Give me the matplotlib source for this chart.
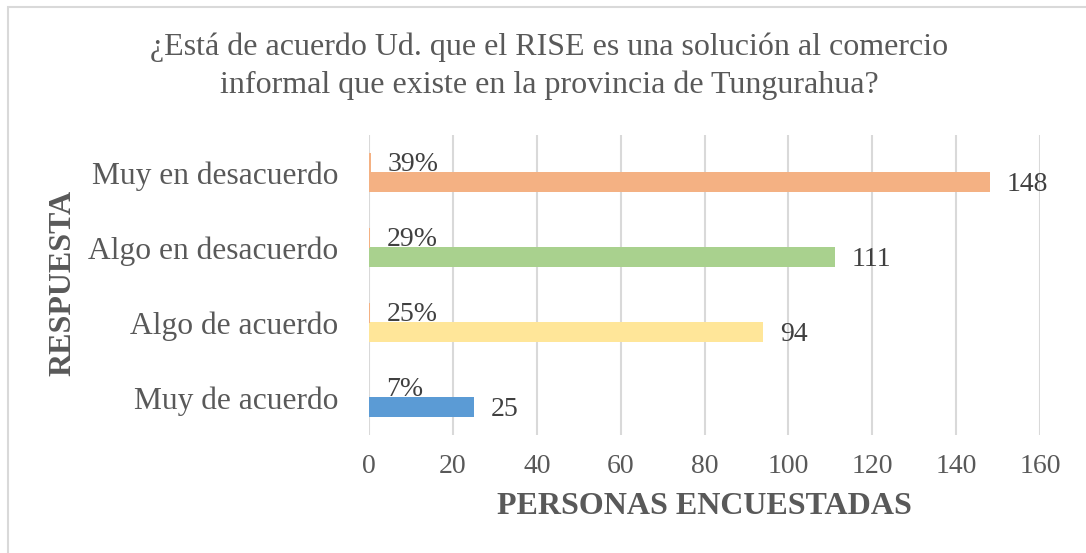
import matplotlib
matplotlib.use("Agg")
import matplotlib.pyplot as plt
from matplotlib.patches import Rectangle

categories = ["Muy de acuerdo", "Algo de acuerdo", "Algo en desacuerdo", "Muy en desacuerdo"]
counts = [25, 94, 111, 148]
percents = [0.07, 0.25, 0.29, 0.39]
percent_labels = ["7%", "25%", "29%", "39%"]
xticks = [0, 20, 40, 60, 80, 100, 120, 140, 160]
colors = ["#5B9BD5", "#FFE699", "#A9D18E", "#F4B183"]

title = "¿Está de acuerdo Ud. que el RISE es una solución al comercio\ninformal que existe en la provincia de Tungurahua?"
xlabel = "PERSONAS ENCUESTADAS"
ylabel = "RESPUESTA"

plt.rcParams['font.family'] = ['Liberation Serif', 'DejaVu Serif']

W, H = 1086, 553
fig = plt.figure(figsize=(W / 100, H / 100), dpi=100)
fig.patch.set_facecolor("white")

# chart border
fig.patches.append(Rectangle((8 / W, -0.1), 1.2, (H - 7) / H + 0.1, transform=fig.transFigure,
                             fill=False, edgecolor="#D9D9D9", linewidth=1.5))

ax = fig.add_axes([369 / W, 1 - 435 / H, (1040 - 369) / W, 300 / H])
pos = list(range(len(categories)))
bh = 0.255
off = 0.127

ax.barh([p - off for p in pos], counts, height=bh, color=colors, zorder=3)
ax.barh([p + off for p in pos], percents, height=bh, color="#F4B183", zorder=3)

for p, c in zip(pos, counts):
    ax.annotate(str(c), xy=(c, p - off), xytext=(12, -2), textcoords="offset points",
                ha="left", va="center", fontsize=20, color="#404040")
for p, v, lab in zip(pos, percents, percent_labels):
    ax.annotate(lab, xy=(v, p + off), xytext=(12, -1), textcoords="offset points",
                ha="left", va="center", fontsize=20, color="#404040")

ax.set_xlim(0, 160)
ax.set_ylim(-0.5, 3.5)
ax.set_xticks(xticks)
ax.set_xticklabels([str(t) for t in xticks], fontsize=20, color="#595959")
ax.set_yticks(pos)
ax.set_yticklabels(categories, fontsize=22.7, color="#595959")
ax.tick_params(axis="both", length=0)
ax.tick_params(axis="x", pad=14)
ax.tick_params(axis="y", pad=22)
ax.grid(axis="x", color="#D9D9D9", linewidth=1.5, zorder=0)
for s in ax.spines.values():
    s.set_visible(False)

fig.text(549 / W, 1 - 66 / H, title, ha="center", va="center", fontsize=23,
         color="#595959", linespacing=1.38)
fig.text(704 / W, 1 - 507 / H, xlabel, ha="center", va="center", fontsize=23,
         fontweight="bold", color="#595959")
fig.text(63 / W, 1 - 283 / H, ylabel, ha="center", va="center", fontsize=23,
         fontweight="bold", color="#595959", rotation=90)

fig.savefig("out.png", dpi=100, facecolor="white")
